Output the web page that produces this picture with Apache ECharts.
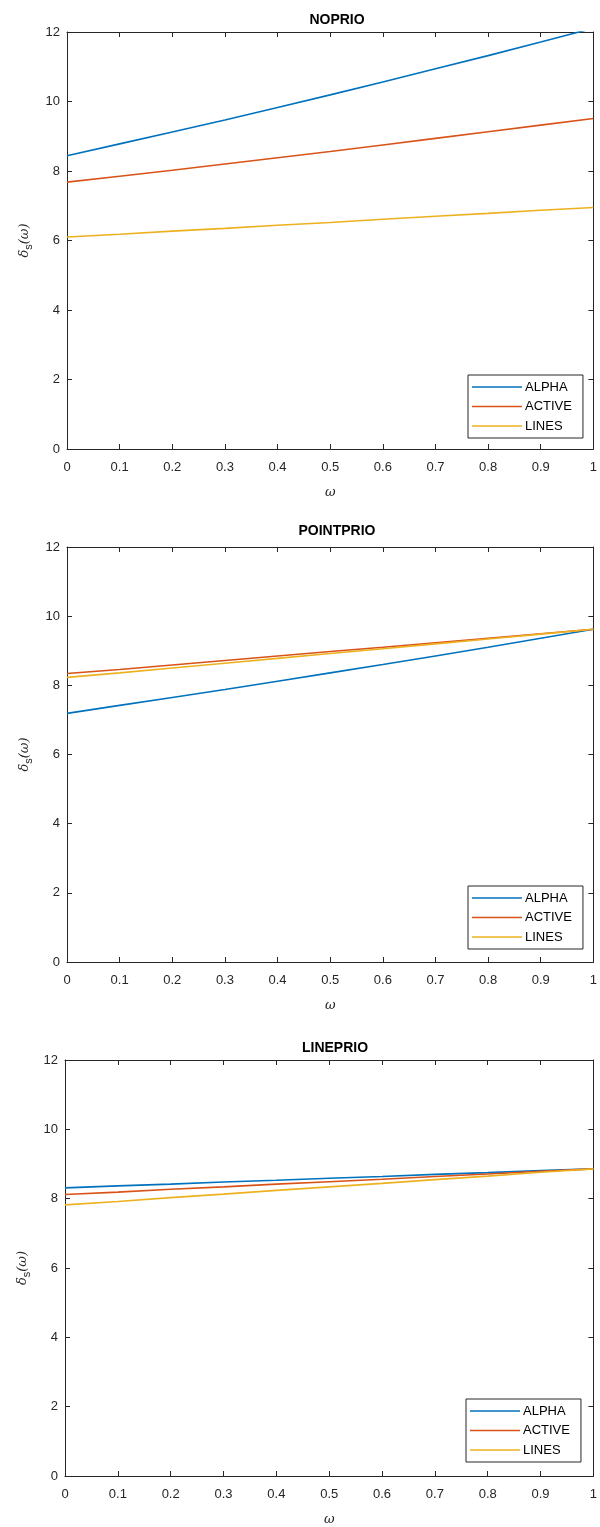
<!DOCTYPE html>
<html>
<head>
<meta charset="utf-8">
<script src="https://cdn.jsdelivr.net/npm/echarts@6/dist/echarts.min.js"></script>
<style>
  html, body { margin: 0; padding: 0; background: #fff; overflow: hidden; }
  #chart { width: 600px; height: 1527px; }
</style>
</head>
<body>
<div id="chart"></div>
<script>
// ω sample points shared by every panel
const omega = [0, 0.1, 0.2, 0.3, 0.4, 0.5, 0.6, 0.7, 0.8, 0.9, 1.0];

const seriesNames = ['ALPHA', 'ACTIVE', 'LINES'];
const panelTitles = ['NOPRIO', 'POINTPRIO', 'LINEPRIO'];
const xTicks = ['0', '0.1', '0.2', '0.3', '0.4', '0.5', '0.6', '0.7', '0.8', '0.9', '1'];

// NOPRIO
const noprioAlpha  = [8.44, 8.78, 9.12, 9.47, 9.83, 10.19, 10.56, 10.94, 11.32, 11.71, 12.11];
const noprioActive = [7.68, 7.85, 8.02, 8.20, 8.38, 8.56, 8.75, 8.94, 9.13, 9.32, 9.51];
const noprioLines  = [6.10, 6.18, 6.27, 6.35, 6.44, 6.52, 6.61, 6.70, 6.78, 6.87, 6.95];

// POINTPRIO
const pointAlpha  = [7.19, 7.42, 7.65, 7.88, 8.12, 8.36, 8.60, 8.85, 9.10, 9.36, 9.62];
const pointActive = [8.34, 8.46, 8.59, 8.72, 8.85, 8.98, 9.10, 9.23, 9.36, 9.49, 9.62];
const pointLines  = [8.23, 8.36, 8.50, 8.64, 8.78, 8.92, 9.06, 9.20, 9.34, 9.48, 9.62];

// LINEPRIO
const lineAlpha  = [8.31, 8.37, 8.42, 8.48, 8.53, 8.59, 8.64, 8.70, 8.75, 8.81, 8.86];
const lineActive = [8.12, 8.19, 8.27, 8.34, 8.42, 8.49, 8.56, 8.64, 8.71, 8.79, 8.86];
const lineLines  = [7.82, 7.92, 8.03, 8.13, 8.24, 8.34, 8.44, 8.55, 8.65, 8.76, 8.86];

const panelData = [
  [noprioAlpha, noprioActive, noprioLines],
  [pointAlpha, pointActive, pointLines],
  [lineAlpha, lineActive, lineLines]
];

const colors = ['#0072BD', '#D95319', '#EDB120'];
const axisColor = '#262626';
const fontFamily = '"Liberation Sans", Arial, Helvetica, sans-serif';

// panel placement in pixels
const panels = [
  { left: 67, top: 32,   width: 530, height: 417, titleY: 8,    legend: { left: 468, top: 375 } },
  { left: 67, top: 547,  width: 530, height: 415, titleY: 519,  legend: { left: 468, top: 886 } },
  { left: 65, top: 1060, width: 530, height: 416, titleY: 1036, legend: { left: 466, top: 1399 } }
];

const grid = [], xAxis = [], yAxis = [], series = [], title = [], legend = [];

panels.forEach((p, i) => {
  grid.push({ left: p.left, top: p.top, width: p.width, height: p.height, containLabel: false });

  title.push({
    text: panelTitles[i],
    left: p.left + p.width / 2,
    top: p.titleY,
    textAlign: 'center',
    textStyle: { fontFamily, fontSize: 14, fontWeight: 'bold', color: '#000' }
  });

  const tick = { show: true, inside: true, length: 5, lineStyle: { color: axisColor, width: 1 } };
  const line = { show: true, onZero: false, lineStyle: { color: axisColor, width: 1 } };

  // bottom x axis with labels
  xAxis.push({
    type: 'value', gridIndex: i, position: 'bottom', min: 0, max: 1, interval: 0.1,
    axisLine: line, axisTick: tick, splitLine: { show: false },
    axisLabel: {
      show: true, margin: 12, color: axisColor, fontFamily, fontSize: 13,
      formatter: v => xTicks[Math.round(v * 10)]
    },
    name: 'ω', nameLocation: 'middle', nameGap: 37,
    nameTextStyle: { fontFamily: 'DejaVu Serif, serif', fontStyle: 'italic', fontSize: 13, color: axisColor }
  });
  // top x axis: box edge with ticks
  xAxis.push({
    type: 'value', gridIndex: i, position: 'top', min: 0, max: 1, interval: 0.1,
    axisLine: line, axisTick: tick, splitLine: { show: false }, axisLabel: { show: false }
  });

  // left y axis with labels
  yAxis.push({
    type: 'value', gridIndex: i, position: 'left', min: 0, max: 12, interval: 2,
    axisLine: line, axisTick: tick, splitLine: { show: false },
    axisLabel: { show: true, margin: 7, color: axisColor, fontFamily, fontSize: 13 },
    name: '{d|δ}{s|s}{d|(ω)}', nameLocation: 'middle', nameGap: 20,
    nameTextStyle: {
      color: axisColor,
      rich: {
        d: { fontFamily: 'DejaVu Serif, serif', fontStyle: 'italic', fontSize: 13, color: axisColor, lineHeight: 18, verticalAlign: 'middle' },
        s: { fontFamily, fontSize: 11, color: axisColor, lineHeight: 18, verticalAlign: 'bottom', padding: [0, 0, -1, 0] }
      }
    }
  });
  // right y axis: box edge with ticks
  yAxis.push({
    type: 'value', gridIndex: i, position: 'right', min: 0, max: 12, interval: 2,
    axisLine: line, axisTick: tick, splitLine: { show: false }, axisLabel: { show: false }
  });

  panelData[i].forEach((vals, k) => {
    series.push({
      name: seriesNames[k],
      type: 'line',
      xAxisIndex: i * 2,
      yAxisIndex: i * 2,
      data: omega.map((w, j) => [w, vals[j]]),
      symbol: 'none',
      smooth: false,
      clip: true,
      lineStyle: { color: colors[k], width: 1.6 },
      itemStyle: { color: colors[k] },
      z: 3
    });
  });

  legend.push({
    data: seriesNames,
    orient: 'vertical',
    left: p.legend.left,
    top: p.legend.top,
    icon: 'rect',
    itemWidth: 50,
    itemHeight: 1.6,
    itemGap: 5.5,
    padding: [5, 11, 5, 4],
    borderColor: axisColor,
    borderWidth: 1,
    backgroundColor: '#fff',
    selectedMode: false,
    textStyle: { fontFamily, fontSize: 13, color: '#000', lineHeight: 14, padding: [0, 0, 0, -2] }
  });
});

const chart = echarts.init(document.getElementById('chart'), null, { renderer: 'canvas' });
chart.setOption({
  animation: false,
  backgroundColor: '#fff',
  color: colors,
  title, grid, xAxis, yAxis, legend, series
});
</script>
</body>
</html>
